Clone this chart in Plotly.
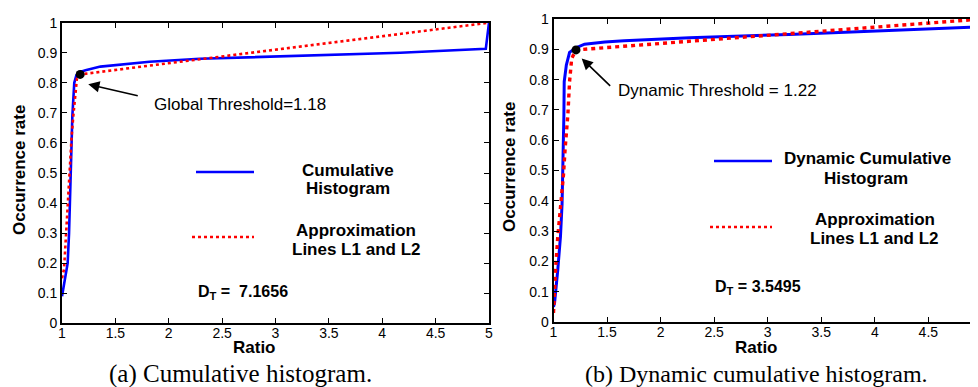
import plotly.graph_objects as go

# ---------------- data ----------------
# (a) cumulative histogram
hist_a_x = [1.0, 1.02, 1.053, 1.066, 1.075, 1.085, 1.09, 1.097, 1.115, 1.135, 1.17, 1.22,
            1.36, 1.82, 2.29, 3.23, 4.17, 4.97, 5.0]
hist_a_y = [0.09, 0.13, 0.20, 0.30, 0.40, 0.50, 0.60, 0.69, 0.80, 0.825, 0.836, 0.842,
            0.854, 0.870, 0.880, 0.889, 0.900, 0.913, 1.0]
approx_a_x = [1.0, 1.019, 1.037, 1.053, 1.068, 1.09, 1.106, 1.14, 1.17, 5.0]
approx_a_y = [0.15, 0.18, 0.29, 0.40, 0.51, 0.62, 0.69, 0.815, 0.828, 1.0]
thr_a_x = [1.17]
thr_a_y = [0.828]

# (b) dynamic cumulative histogram
hist_b_x = [1.0, 1.01, 1.04, 1.065, 1.08, 1.087, 1.09, 1.097, 1.10, 1.12, 1.15, 1.21,
            1.29, 1.48, 1.66, 2.27, 3.2, 4.14, 5.0]
hist_b_y = [0.05, 0.063, 0.172, 0.282, 0.39, 0.485, 0.574, 0.683, 0.793, 0.848, 0.89, 0.905,
            0.917, 0.924, 0.928, 0.938, 0.949, 0.961, 0.974]
approx_b_x = [1.0, 1.005, 1.019, 1.04, 1.072, 1.093, 1.109, 1.134, 1.15, 1.17, 1.21, 5.0]
approx_b_y = [0.03, 0.07, 0.172, 0.282, 0.393, 0.485, 0.574, 0.683, 0.793, 0.87, 0.898, 1.0]
thr_b_x = [1.21]
thr_b_y = [0.898]

x_ticks = [1, 1.5, 2, 2.5, 3, 3.5, 4, 4.5, 5]
y_ticks = [0, 0.1, 0.2, 0.3, 0.4, 0.5, 0.6, 0.7, 0.8, 0.9, 1]

# ---------------- layout helpers ----------------
# the page body has an 8px margin, so the figure is offset by 8px
OFF = 8
W, H = 978 - OFF, 387 - OFF
def fx(p):
    return (p - OFF) / W
def fy(p):
    return 1 - (p - OFF) / H

BLUE = "#0000ff"
RED = "#ff0000"
SANS = "Liberation Sans, Arial, sans-serif"
SERIF = "Liberation Serif, Times New Roman, serif"

fig = go.Figure()

fig.add_trace(go.Scatter(x=hist_a_x, y=hist_a_y, mode="lines",
                         line=dict(color=BLUE, width=2.6), xaxis="x", yaxis="y"))
fig.add_trace(go.Scatter(x=approx_a_x, y=approx_a_y, mode="lines",
                         line=dict(color=RED, width=2.6, dash="3px,3px"), xaxis="x", yaxis="y"))
fig.add_trace(go.Scatter(x=thr_a_x, y=thr_a_y, mode="markers",
                         marker=dict(color="black", size=9), xaxis="x", yaxis="y"))

fig.add_trace(go.Scatter(x=hist_b_x, y=hist_b_y, mode="lines",
                         line=dict(color=BLUE, width=3), xaxis="x2", yaxis="y2"))
fig.add_trace(go.Scatter(x=approx_b_x, y=approx_b_y, mode="lines",
                         line=dict(color=RED, width=3.4, dash="4px,4px"), xaxis="x2", yaxis="y2"))
fig.add_trace(go.Scatter(x=thr_b_x, y=thr_b_y, mode="markers",
                         marker=dict(color="black", size=9), xaxis="x2", yaxis="y2"))

axis_common = dict(showline=True, linecolor="black", linewidth=2, ticks="inside",
                   ticklen=5, tickcolor="black", tickwidth=1, showgrid=False,
                   zeroline=False, automargin=False,
                   tickfont=dict(family=SANS, size=14, color="black"))

fig.update_layout(
    width=W, height=H,
    margin=dict(l=0, r=0, t=0, b=0),
    paper_bgcolor="white", plot_bgcolor="white",
    showlegend=False,
    xaxis=dict(domain=[fx(62), fx(489)], range=[1, 5], tickvals=x_ticks,
               mirror="ticks", anchor="y", ticklabelstandoff=-4, **axis_common),
    yaxis=dict(domain=[fy(323.3), fy(22.7)], range=[0, 1], tickvals=y_ticks,
               mirror="ticks", anchor="x", **axis_common),
    xaxis2=dict(domain=[fx(553.5), 1], range=[1, 1 + (978 - 553.5) / 107.1], tickvals=x_ticks,
                mirror="ticks", anchor="y2", ticklabelstandoff=-4, **axis_common),
    yaxis2=dict(domain=[fy(322), fy(19)], range=[0, 1], tickvals=y_ticks,
                mirror=False, anchor="x2", **axis_common),
)

ann = []
def text(px, py, s, size=17, bold=False, family=SANS, xanchor="center", angle=0):
    ann.append(dict(x=fx(px), y=fy(py), xref="paper", yref="paper", text=("<b>%s</b>" % s) if bold else s,
                    showarrow=False, xanchor=xanchor, yanchor="middle", textangle=angle,
                    font=dict(family=family, size=size, color="black")))

# axis titles
text(19, 170, "Occurrence rate", bold=True, angle=-90)
text(509, 167, "Occurrence rate", bold=True, angle=-90)
text(255, 347, "Ratio", bold=True)
text(756, 347, "Ratio", bold=True)

# threshold labels
text(152, 104, "Global Threshold=1.18", xanchor="left")
text(616, 91, "Dynamic Threshold = 1.22", xanchor="left")

# legends text
text(348, 170, "Cumulative", bold=True)
text(348, 189, "Histogram", bold=True)
text(356, 230, "Approximation", bold=True)
text(356, 249, "Lines L1 and L2", bold=True)
text(867, 159, "Dynamic Cumulative", bold=True)
text(866, 178, "Histogram", bold=True)
text(875, 219, "Approximation", bold=True)
text(874, 238, "Lines L1 and L2", bold=True)

# D_T
text(196, 292, "D<sub>T</sub> =  7.1656", bold=True, size=16, xanchor="left")
text(713, 287, "D<sub>T</sub> = 3.5495", bold=True, size=16, xanchor="left")

# captions
text(240, 374, "(a) Cumulative histogram.", size=25, family=SERIF)
text(756, 374, "(b) Dynamic cumulative histogram.", size=24, family=SERIF)

# arrows
ann.append(dict(x=1.246, y=0.795, xref="x", yref="y", ax=51, ay=11.7, text="",
                showarrow=True, arrowhead=2, arrowsize=1.4, arrowwidth=1.6, arrowcolor="black"))
ann.append(dict(x=1.263, y=0.870, xref="x2", yref="y2", ax=30, ay=29, text="",
                showarrow=True, arrowhead=2, arrowsize=1.4, arrowwidth=1.6, arrowcolor="black"))

fig.update_layout(annotations=ann)

# legend keys
shapes = [
    dict(type="line", xref="paper", yref="paper", x0=fx(196), x1=fx(254), y0=fy(172), y1=fy(172),
         line=dict(color=BLUE, width=2.6)),
    dict(type="line", xref="paper", yref="paper", x0=fx(192), x1=fx(254), y0=fy(237), y1=fy(237),
         line=dict(color=RED, width=2.6, dash="3px,3px")),
    dict(type="line", xref="paper", yref="paper", x0=fx(714), x1=fx(772), y0=fy(161), y1=fy(161),
         line=dict(color=BLUE, width=2.6)),
    dict(type="line", xref="paper", yref="paper", x0=fx(710), x1=fx(772), y0=fy(227), y1=fy(227),
         line=dict(color=RED, width=2.6, dash="3px,3px")),
]
fig.update_layout(shapes=shapes)

fig.write_html("out.html")
